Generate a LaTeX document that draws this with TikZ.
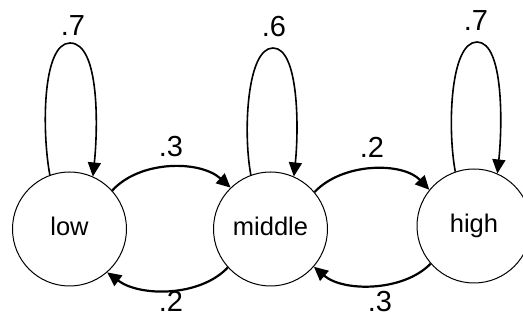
\documentclass[tikz,border=0pt]{standalone}
\usepackage{fontspec}
\setmainfont{Liberation Sans}
\usetikzlibrary{arrows.meta}
\begin{document}
\begin{tikzpicture}[x=1pt,y=-1pt,
  state/.style={circle,draw,line width=1pt,minimum size=114pt,inner sep=0pt,
    font=\fontsize{25.5}{30}\selectfont,text height=18pt,text depth=4pt},
  lbl/.style={font=\fontsize{29}{34}\selectfont,inner sep=0pt},
  loopedge/.style={line width=1.6pt,-{Triangle[length=14pt,width=13pt]}},
  arcedge/.style={line width=2.2pt,-{Triangle[length=14pt,width=13pt]}}]
\useasboundingbox (0,0) rectangle (523,320);
\node[state] (low) at (69.5,229) {low};
\node[state] (mid) at (270.5,229) {middle};
\node[state] (high) at (474,226) {high};
\coordinate (lowtop) at (70,43);
\coordinate (midtop) at (273,48);
\coordinate (hightop) at (477,42);
% self loops
\draw[loopedge] (low.110) .. controls +(-8,-43) and +(-28,0) .. (lowtop)
  .. controls +(30,0) and +(5,-47) .. (low.66);
\draw[loopedge] (mid.110) .. controls +(-8,-43) and +(-26,0) .. (midtop)
  .. controls +(26,0) and +(5,-47) .. (mid.66);
\draw[loopedge] (high.109) .. controls +(-8,-43) and +(-27,0) .. (hightop)
  .. controls +(27,0) and +(5,-47) .. (high.66);
% transitions
\draw[arcedge] (low.42) .. controls (140,160) and (200,160) .. (mid.134);
\draw[arcedge] (mid.222) .. controls (200,297) and (140,297) .. (low.311);
\draw[arcedge] (mid.40) .. controls (343,162) and (403,162) .. (high.141);
\draw[arcedge] (high.221) .. controls (403,292) and (343,292) .. (mid.319.5);
% labels
\node[lbl] (l1) at (73,26) {.7};
\node[lbl] (l2) at (274,27) {.6};
\node[lbl] (l3) at (476,21) {.7};
\node[lbl] (l4) at (171,147) {.3};
\node[lbl] (l5) at (171,301) {.2};
\node[lbl] (l6) at (372,147) {.2};
\node[lbl] (l7) at (380,302) {.3};
\end{tikzpicture}
\end{document}
